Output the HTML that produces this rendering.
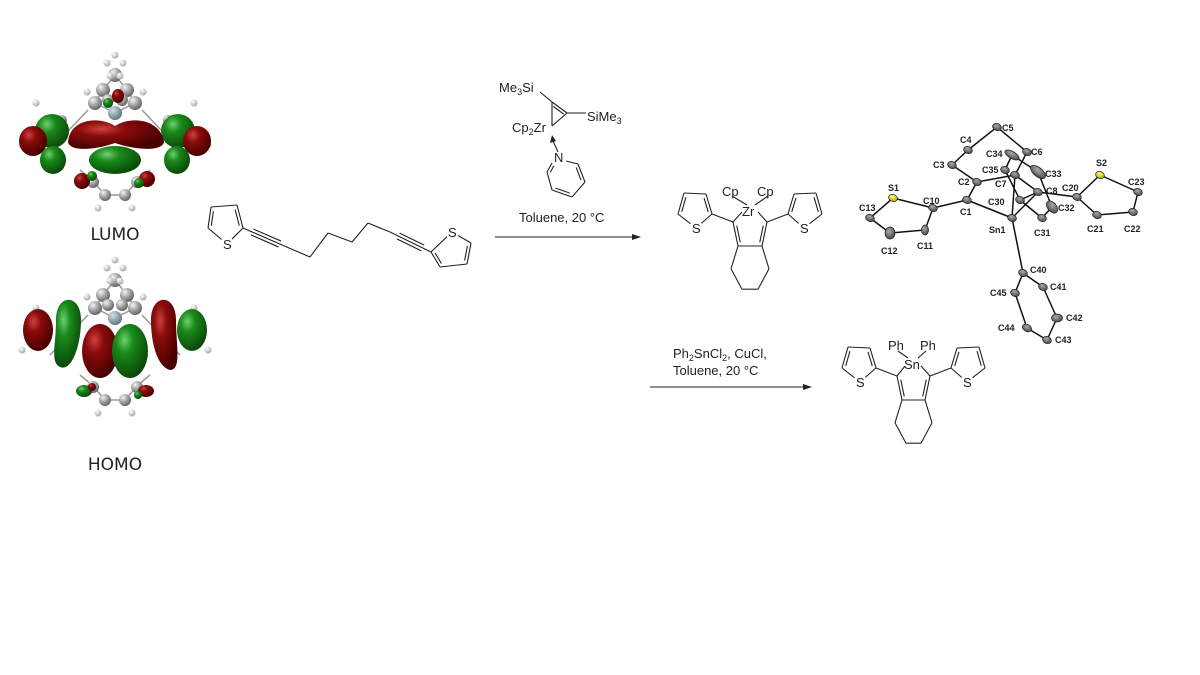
<!DOCTYPE html>
<html><head><meta charset="utf-8"><style>
body{margin:0;background:#fff}
svg{display:block}
text{font-family:"Liberation Sans",sans-serif;fill:#222}
</style></head><body>
<svg id="s" width="1200" height="675" viewBox="0 0 1200 675" xmlns="http://www.w3.org/2000/svg">
<defs>
<radialGradient id="red" cx="35%" cy="30%" r="70%"><stop offset="0" stop-color="#d04040"/><stop offset="0.35" stop-color="#8a0c0c"/><stop offset="1" stop-color="#4a0000"/></radialGradient>
<radialGradient id="grn" cx="35%" cy="30%" r="70%"><stop offset="0" stop-color="#6fd06f"/><stop offset="0.35" stop-color="#1a8a1a"/><stop offset="1" stop-color="#0a4a0a"/></radialGradient>
<radialGradient id="gry" cx="35%" cy="30%" r="70%"><stop offset="0" stop-color="#f4f4f4"/><stop offset="0.5" stop-color="#a8a8a8"/><stop offset="1" stop-color="#666"/></radialGradient>
<radialGradient id="wh" cx="35%" cy="30%" r="70%"><stop offset="0" stop-color="#fff"/><stop offset="1" stop-color="#aaa"/></radialGradient>
<radialGradient id="sn" cx="35%" cy="30%" r="70%"><stop offset="0" stop-color="#cfe0e4"/><stop offset="1" stop-color="#5f7a80"/></radialGradient>
<radialGradient id="oe" cx="40%" cy="35%" r="70%"><stop offset="0" stop-color="#aaa"/><stop offset="1" stop-color="#444"/></radialGradient>
<radialGradient id="ye" cx="40%" cy="35%" r="70%"><stop offset="0" stop-color="#ffff80"/><stop offset="1" stop-color="#b0a000"/></radialGradient>
</defs>
<g id="mo"></g>
<g id="chem" stroke="#222" stroke-width="1.1" fill="none"></g>
<g id="ortep"></g>

<text x="115" y="240" font-size="17" text-anchor="middle" style="font-family:'DejaVu Sans',sans-serif">LUMO</text>
<text x="115" y="470" font-size="17" text-anchor="middle" style="font-family:'DejaVu Sans',sans-serif">HOMO</text>

<text x="499" y="92" font-size="13">Me<tspan font-size="9" dy="3">3</tspan><tspan dy="-3">Si</tspan></text>
<text x="587" y="121" font-size="13">SiMe<tspan font-size="9" dy="3">3</tspan></text>
<text x="512" y="132" font-size="13">Cp<tspan font-size="9" dy="3">2</tspan><tspan dy="-3">Zr</tspan></text>
<text x="554" y="162" font-size="13">N</text>
<text x="519" y="222" font-size="13">Toluene, 20 °C</text>
<text x="673" y="358" font-size="13">Ph<tspan font-size="9" dy="3">2</tspan><tspan dy="-3">SnCl</tspan><tspan font-size="9" dy="3">2</tspan><tspan dy="-3">, CuCl,</tspan></text>
<text x="673" y="375" font-size="13">Toluene, 20 °C</text>

<text x="722" y="196" font-size="13">Cp</text>
<text x="757" y="196" font-size="13">Cp</text>
<text x="742" y="216" font-size="13">Zr</text>
<text x="888" y="350" font-size="13">Ph</text>
<text x="920" y="350" font-size="13">Ph</text>
<text x="904" y="369" font-size="13">Sn</text>

<g font-family="Liberation Sans, sans-serif" font-size="9" font-weight="bold" id="lbl">
<text x="1002" y="131">C5</text><text x="960" y="143">C4</text><text x="1031" y="155">C6</text><text x="933" y="168">C3</text>
<text x="986" y="157">C34</text><text x="982" y="173">C35</text><text x="995" y="187">C7</text><text x="1045" y="177">C33</text>
<text x="958" y="185">C2</text><text x="1046" y="194">C8</text><text x="1062" y="191">C20</text><text x="1096" y="166">S2</text>
<text x="1128" y="185">C23</text><text x="1124" y="232">C22</text><text x="1087" y="232">C21</text><text x="1058" y="211">C32</text>
<text x="988" y="205">C30</text><text x="1034" y="236">C31</text><text x="960" y="215">C1</text><text x="989" y="233">Sn1</text>
<text x="923" y="204">C10</text><text x="888" y="191">S1</text><text x="859" y="211">C13</text><text x="881" y="254">C12</text>
<text x="917" y="249">C11</text><text x="1030" y="273">C40</text><text x="1050" y="290">C41</text><text x="990" y="296">C45</text>
<text x="1066" y="321">C42</text><text x="998" y="331">C44</text><text x="1055" y="343">C43</text>
</g>
</svg>
<script>
const NS="http://www.w3.org/2000/svg";
const chem=document.getElementById('chem'), mo=document.getElementById('mo'), ort=document.getElementById('ortep'), svg=document.getElementById('s');
function el(p,t,a){const e=document.createElementNS(NS,t);for(const k in a)e.setAttribute(k,a[k]);p.appendChild(e);return e;}
function L(x1,y1,x2,y2,p){el(p||chem,'line',{x1,y1,x2,y2});}
function poly(pts){for(let i=0;i<pts.length-1;i++)L(pts[i][0],pts[i][1],pts[i+1][0],pts[i+1][1]);}
function inner(a,b,c,off){const mx=(a[0]+b[0])/2,my=(a[1]+b[1])/2;let dx=c[0]-mx,dy=c[1]-my;const d=Math.hypot(dx,dy);dx*=off/d;dy*=off/d;
 const sx=(b[0]-a[0])*0.15,sy=(b[1]-a[1])*0.15;L(a[0]+dx+sx,a[1]+dy+sy,b[0]+dx-sx,b[1]+dy-sy);}
function ctr(p){let x=0,y=0;p.forEach(q=>{x+=q[0];y+=q[1]});return[x/p.length,y/p.length];}
function Stxt(x,y){const t=el(svg,'text',{x:x-4,y:y+5,'font-size':13});t.textContent='S';}
function thio(v){const c=ctr(v);const S=v[4];
 const sh=(a,b)=>{const dx=b[0]-a[0],dy=b[1]-a[1],d=Math.hypot(dx,dy);return[a[0]+dx*7/d,a[1]+dy*7/d];};
 poly([sh(S,v[0]),v[0],v[1],v[2],v[3],sh(S,v[3])]);inner(v[0],v[1],c,3);inner(v[2],v[3],c,3);Stxt(S[0],S[1]);}
thio([[243,228],[237,205],[211,207],[208,228],[227,244]]);
function triple(a,b){L(a[0],a[1],b[0],b[1]);const dx=b[0]-a[0],dy=b[1]-a[1],d=Math.hypot(dx,dy),nx=-dy/d*3.2,ny=dx/d*3.2;
 const s=0.2;L(a[0]+dx*s+nx,a[1]+dy*s+ny,b[0]-dx*s+nx,b[1]-dy*s+ny);L(a[0]+dx*s-nx,a[1]+dy*s-ny,b[0]-dx*s-nx,b[1]-dy*s-ny);}
triple([243,228],[289,248]);poly([[289,248],[310,257],[328,233],[352,242],[368,223],[390,232]]);triple([390,232],[431,252]);
thio([[431,252],[440,267],[467,264],[471,243],[452,232]]);
function arrow(x1,x2,y){L(x1,y,x2-6,y);el(svg,'path',{d:`M${x2},${y} L${x2-9},${y-3} L${x2-9},${y+3}Z`,fill:'#222'});}
arrow(495,641,237);arrow(650,812,387);
poly([[540,92],[552,102],[552,126]]);L(552,102,567,113);L(567,113,552,126);inner([552,102],[567,113],[556,118],3);L(567,113,586,113);
L(558,152,553,141);el(svg,'path',{d:'M552,135 L550,143 L556,141Z',fill:'#222'});
{const v=[[558,158],[578,164],[585,182],[572,197],[552,190],[547,172]];poly([[566,161],[578,164],[585,182],[572,197],[552,190],[547,172],[552,163]]);const c=ctr(v);inner(v[1],v[2],c,3);inner(v[3],v[4],c,3);inner(v[5],[552,163],c,3);}
function metal(ml,mr,bl,br,top){
 L(ml[0],ml[1],top[0]-8,top[1]-2);L(mr[0],mr[1],top[0]+8,top[1]-2);
 L(ml[0],ml[1],bl[0],bl[1]);L(mr[0],mr[1],br[0],br[1]);L(bl[0],bl[1],br[0],br[1]);
 const c=[(ml[0]+mr[0])/2,(ml[1]+bl[1])/2];inner(ml,bl,c,3);inner(mr,br,c,3);
 const h=bl[1]-ml[1];
 poly([bl,[bl[0]-7,bl[1]+h*0.95],[bl[0]+4,bl[1]+h*1.8],[br[0]-4,br[1]+h*1.8],[br[0]+7,br[1]+h*0.95],br]);}
metal([733,222],[767,222],[738,246],[762,246],[750,214]);
L(732,196,747,205);L(768,196,755,205);
L(733,222,712,214);thio([[712,214],[706,194],[684,193],[678,214],[696,228]]);
L(767,222,788,214);thio([[788,214],[794,194],[816,193],[822,214],[804,228]]);
metal([897,376],[930,376],[902,400],[925,400],[913,368]);
L(898,351,908,358);L(926,351,918,358);
L(897,376,876,368);thio([[876,368],[870,348],[848,347],[842,368],[860,382]]);
L(930,376,951,368);thio([[951,368],[957,348],[979,347],[985,368],[967,382]]);

function E(p,cx,cy,rx,ry,f,rot){el(p,'ellipse',{cx,cy,rx,ry,fill:`url(#${f})`,transform:rot?`rotate(${rot} ${cx} ${cy})`:''});}
function atoms(p,dy){const g=el(p,'g',{stroke:'#999','stroke-width':1.5,fill:'none'});
 [[115,75,103,90],[115,75,127,90],[103,90,95,103],[127,90,135,103],[95,103,115,113],[135,103,115,113],[88,110,50,150],[142,110,180,150],[105,195,125,195],[105,195,92,180],[125,195,138,180],[92,180,80,170],[138,180,150,170]].forEach(a=>el(g,'line',{x1:a[0],y1:a[1]+dy,x2:a[2],y2:a[3]+dy}));
 [[115,75,7],[103,90,7],[127,90,7],[95,103,7],[135,103,7],[108,100,6],[122,100,6],[105,195,6],[125,195,6],[93,182,6],[137,182,6],[62,120,5],[168,120,5]].forEach(a=>E(p,a[0],a[1]+dy,a[2],a[2],'gry'));
 [[107,63],[123,63],[115,55],[87,92],[143,92],[36,103],[194,103],[98,208],[132,208],[22,145],[208,145],[110,76],[120,76]].forEach(a=>E(p,a[0],a[1]+dy,3.5,3.5,'wh'));
 E(p,115,113+dy,7,7,'sn');}
atoms(mo,0);
E(mo,52,131,17,17,'grn');E(mo,178,131,17,17,'grn');
E(mo,33,141,14,15,'red');E(mo,197,141,14,15,'red');
E(mo,53,160,13,14,'grn');E(mo,177,160,13,14,'grn');
el(mo,'path',{d:'M68,142 C70,118 100,116 115,126 C130,116 160,118 164,142 C162,152 135,150 115,143 C95,150 70,152 68,142Z',fill:'url(#red)'});
E(mo,115,160,26,14,'grn');
E(mo,82,181,8,8,'red');E(mo,147,179,8,8,'red');E(mo,92,176,5,5,'grn');E(mo,139,183,5,5,'grn');
E(mo,118,96,6,7,'red');E(mo,108,103,5,5,'grn');
atoms(mo,205);
E(mo,100,351,18,27,'red');E(mo,130,351,18,27,'grn');
E(mo,38,330,15,21,'red');E(mo,192,330,15,21,'grn');
el(mo,'path',{d:'M56,320 C56,293 81,293 81,320 C81,345 72,372 60,367 C50,362 56,345 56,320Z',fill:'url(#grn)'});
el(mo,'path',{d:'M151,320 C151,293 176,293 176,320 C176,345 182,370 170,370 C158,367 151,345 151,320Z',fill:'url(#red)'});
E(mo,84,391,8,6,'grn');E(mo,146,391,8,6,'red');E(mo,92,387,4,4,'red');E(mo,138,395,4,4,'grn');

const A={C5:[997,127],C4:[968,150],C6:[1027,152],C3:[952,165],C34:[1012,155],C35:[1005,170],C7:[1015,175],C33:[1038,172],C2:[977,182],C8:[1038,192],C20:[1077,197],S2:[1100,175],C23:[1138,192],C22:[1133,212],C21:[1097,215],C32:[1052,207],C30:[1020,200],C31:[1042,218],C1:[967,200],Sn1:[1012,218],C10:[933,208],S1:[893,198],C13:[870,218],C12:[890,233],C11:[925,230],C40:[1023,273],C41:[1043,287],C45:[1015,293],C42:[1057,318],C44:[1027,328],C43:[1047,340]};
const B="C5-C4 C5-C6 C4-C3 C3-C2 C2-C1 C1-C10 C10-S1 S1-C13 C13-C12 C12-C11 C11-C10 C1-Sn1 C2-C7 C7-C6 C7-C8 C8-C20 C20-S2 S2-C23 C23-C22 C22-C21 C21-C20 Sn1-C8 Sn1-C40 Sn1-C7 C30-C31 C30-C35 C34-C35 C34-C33 C33-C32 C32-C31 C30-C8 C40-C41 C41-C42 C42-C43 C43-C44 C44-C45 C45-C40".split(' ');
B.forEach(b=>{const [a,c]=b.split('-');el(ort,'line',{x1:A[a][0],y1:A[a][1],x2:A[c][0],y2:A[c][1],stroke:'#111','stroke-width':1.5});});
const big={C33:[9,4.5,40],C32:[7,4.5,50],C34:[8,3.5,30],C12:[5,6,0],C11:[3.5,5,0],C42:[5.5,4,0],C44:[5,3.5,30]};
for(const k in A){const [x,y]=A[k];const r=big[k]||[4.5,3.5,20];el(ort,'ellipse',{cx:x,cy:y,rx:r[0],ry:r[1],transform:`rotate(${r[2]} ${x} ${y})`,fill:`url(#${k[0]=='S'&&k!='Sn1'?'ye':'oe'})`,stroke:'#222','stroke-width':0.7});}
svg.appendChild(document.getElementById('lbl'));
</script>
</body></html>
